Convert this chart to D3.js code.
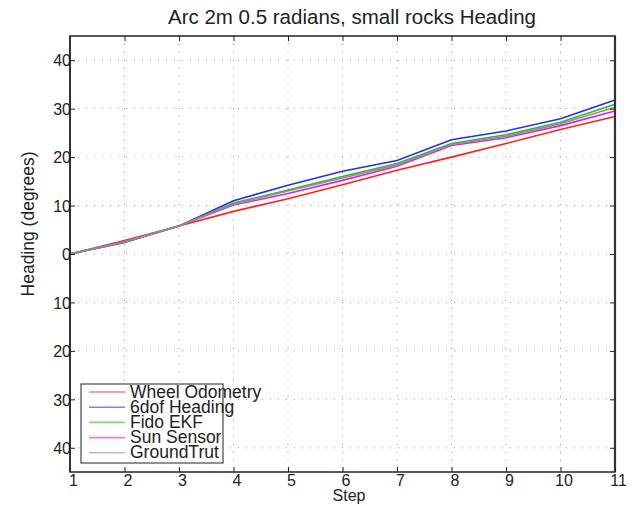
<!DOCTYPE html>
<html><head><meta charset="utf-8">
<script src="https://cdn.jsdelivr.net/npm/d3@7"></script>
<style>body{margin:0;background:#fff;} text{font-family:"Liberation Sans",Arial,sans-serif;fill:#222;}</style>
</head><body>
<svg id="c" width="636" height="506"></svg>
<script>
const steps = [1,2,3,4,5,6,7,8,9,10,11];
const wheelOdometry = [0, 2.8, 5.8, 8.8, 11.4, 14.3, 17.3, 20.0, 22.8, 25.7, 28.4];
const sixDofHeading = [0, 2.4, 5.8, 11.0, 14.2, 17.1, 19.3, 23.6, 25.4, 27.9, 31.8];
const fidoEKF       = [0, 2.5, 5.8, 10.5, 13.2, 16.0, 18.7, 22.8, 24.6, 27.2, 30.9];
const sunSensor     = [0, 2.5, 5.8, 10.1, 12.5, 15.2, 18.1, 22.4, 24.0, 26.5, 29.5];
const groundTruth   = [0, 2.5, 5.8, 10.3, 13.0, 15.7, 18.4, 22.6, 24.3, 26.9, 30.3];
const yTickValues = [40, 30, 20, 10, 0, -10, -20, -30, -40];
const yTickLabels = ["40","30","20","10","0","10","20","30","40"];
const xTickLabels = ["1","2","3","4","5","6","7","8","9","10","11"];
const seriesNames = ["Wheel Odometry","6dof Heading","Fido EKF","Sun Sensor","GroundTrut"];
const seriesColors = ["#ff2020","#2a2aff","#22c022","#e020e0","#909090"];
const seriesData = [wheelOdometry, sixDofHeading, fidoEKF, sunSensor, groundTruth];

const svg = d3.select("#c");
const L=70, R=615, T=36, B=472;
const x = d3.scaleLinear().domain([1,11]).range([L,R]);
const y = d3.scaleLinear().domain([-45,45]).range([B,T]);

// grid
const g = svg.append("g");
g.selectAll(".gx").data(steps.slice(1,-1)).enter().append("line")
  .attr("x1",d=>x(d)).attr("x2",d=>x(d)).attr("y1",T).attr("y2",B)
  .attr("stroke","#999").attr("stroke-width",1).attr("stroke-dasharray","1,7");
g.selectAll(".gy").data(yTickValues).enter().append("line")
  .attr("x1",L).attr("x2",R).attr("y1",d=>y(d)).attr("y2",d=>y(d))
  .attr("stroke","#999").attr("stroke-width",1).attr("stroke-dasharray","1,7");

// series lines
const line = d3.line().x((d,i)=>x(steps[i])).y(d=>y(d));
seriesData.forEach((s,k)=>{
  svg.append("path").datum(s).attr("d",line).attr("fill","none")
    .attr("stroke",seriesColors[k]).attr("stroke-width",1.6);
});

// frame
svg.append("rect").attr("x",L).attr("y",T).attr("width",R-L).attr("height",B-T)
  .attr("fill","none").attr("stroke","#222").attr("stroke-width",1.5);
svg.append("line").attr("x1",R).attr("x2",R).attr("y1",T).attr("y2",B)
  .attr("stroke","#333").attr("stroke-width",2.2);
svg.append("line").attr("x1",L).attr("x2",L).attr("y1",T).attr("y2",B)
  .attr("stroke","#333").attr("stroke-width",2);

// axes with inward ticks
const xAxisB = d3.axisBottom(x).tickValues(steps).tickFormat((d,i)=>xTickLabels[i]).tickSizeInner(-5).tickSizeOuter(0);
const gxB = svg.append("g").attr("transform",`translate(0,${B})`).call(xAxisB);
const xAxisT = d3.axisTop(x).tickValues(steps).tickFormat("").tickSizeInner(-5).tickSizeOuter(0);
const gxT = svg.append("g").attr("transform",`translate(0,${T})`).call(xAxisT);
const yAxisL = d3.axisLeft(y).tickValues(yTickValues).tickFormat((d,i)=>yTickLabels[i]).tickSizeInner(-5).tickSizeOuter(0);
const gyL = svg.append("g").attr("transform",`translate(${L},0)`).call(yAxisL);
const yAxisR = d3.axisRight(y).tickValues(yTickValues).tickFormat("").tickSizeInner(-5).tickSizeOuter(0);
const gyR = svg.append("g").attr("transform",`translate(${R},0)`).call(yAxisR);
[gxB,gxT,gyL,gyR].forEach(a=>{
  a.select(".domain").remove();
  a.selectAll(".tick line").attr("stroke","#222");
  a.selectAll(".tick text").style("font-size","16px").style("font-family","'Liberation Sans',Arial,sans-serif").attr("fill","#222");
});
gyL.selectAll(".tick text").attr("x",1).attr("dy","0.36em");
gxB.selectAll(".tick text").attr("x",3).attr("y",14).attr("dy",0);

// titles
svg.append("text").attr("x",352).attr("y",24).attr("text-anchor","middle")
  .style("font-size","20.5px").text("Arc 2m 0.5 radians, small rocks Heading");
svg.append("text").attr("x",349).attr("y",501).attr("text-anchor","middle")
  .style("font-size","16px").text("Step");
svg.append("text").attr("transform","translate(34,224) rotate(-90)").attr("text-anchor","middle")
  .style("font-size","17.5px").text("Heading (degrees)");

// legend
const lg = svg.append("g");
lg.append("rect").attr("x",81).attr("y",384).attr("width",142).attr("height",79)
  .attr("fill","#fff").attr("stroke","#222").attr("stroke-width",1);
seriesNames.forEach((n,i)=>{
  const yy = 392 + i*15.2;
  lg.append("line").attr("x1",89).attr("x2",125).attr("y1",yy).attr("y2",yy)
    .attr("stroke",seriesColors[i]).attr("stroke-width",1.6).attr("opacity",0.6);
  lg.append("text").attr("x",130).attr("y",yy+5.5).style("font-size","17.5px").text(n);
});
</script>
</body></html>
